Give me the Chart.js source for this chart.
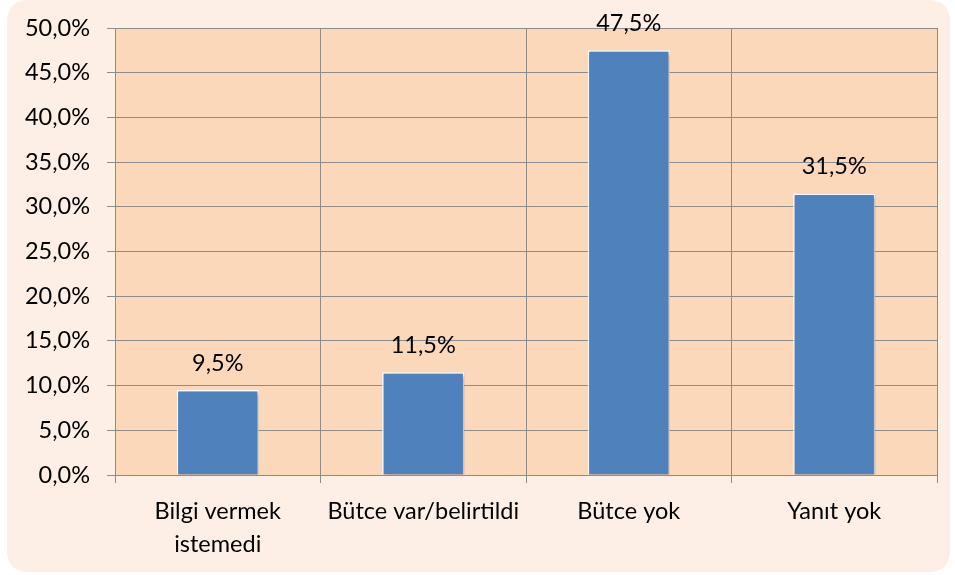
<!DOCTYPE html>
<html><head><meta charset="utf-8">
<script src="https://cdn.jsdelivr.net/npm/chart.js@4/dist/chart.umd.min.js"></script>
<style>html,body{margin:0;padding:0;background:#fff}#wrap{width:955px;height:575px}</style>
</head><body><div id="wrap"><canvas id="c" width="955" height="575"></canvas></div>
<script>
const categories = [["Bilgi vermek","istemedi"], "Bütce var/belirtildi", "Bütce yok", "Yanıt yok"];
const values = [9.5, 11.5, 47.5, 31.5];
const yTicks = [0,5,10,15,20,25,30,35,40,45,50];
const FONT = "Lato, 'Noto Sans', sans-serif";
const FS = 23.5;
const fmt = v => v.toFixed(1).replace('.', ',') + '%';

const bgPlugin = {
  id:'bg',
  beforeDraw(chart){
    const ctx = chart.ctx, a = chart.chartArea;
    ctx.save();
    ctx.fillStyle = '#FDEFE5';
    const x=7,y=0,w=943,h=572,r=22;
    ctx.beginPath();
    ctx.moveTo(x+r,y);ctx.lineTo(x+w-r,y);ctx.quadraticCurveTo(x+w,y,x+w,y+r);
    ctx.lineTo(x+w,y+h-r);ctx.quadraticCurveTo(x+w,y+h,x+w-r,y+h);
    ctx.lineTo(x+r,y+h);ctx.quadraticCurveTo(x,y+h,x,y+h-r);
    ctx.lineTo(x,y+r);ctx.quadraticCurveTo(x,y,x+r,y);ctx.closePath();ctx.fill();
    ctx.fillStyle = '#FBD8BA';
    ctx.fillRect(a.left,a.top,a.right-a.left,a.bottom-a.top);
    ctx.restore();
  },
  beforeDatasetsDraw(chart){
    chart.ctx.save();
    chart.ctx.shadowColor='rgba(0,0,0,0.3)';
    chart.ctx.shadowBlur=4;
    chart.ctx.shadowOffsetX=2;
    chart.ctx.shadowOffsetY=2;
  },
  afterDatasetsDraw(chart){
    chart.ctx.restore();
    const ctx = chart.ctx;
    const meta = chart.getDatasetMeta(0);
    ctx.save();
    ctx.font = FS + "px " + FONT;
    ctx.fillStyle = '#000';
    ctx.textAlign='center';ctx.textBaseline='middle';
    meta.data.forEach((bar,i)=>{
      ctx.fillText(fmt(values[i]), bar.x, bar.y-27);
    });
    ctx.restore();
  }
};

new Chart(document.getElementById('c'), {
  type:'bar',
  data:{labels:categories, datasets:[{data:values, backgroundColor:'#4F81BD', borderColor:'#FFFFFF', borderWidth:1.5, categoryPercentage:1, barPercentage:0.4}]},
  options:{
    responsive:false, animation:false, devicePixelRatio:1,
    layout:{padding:{left:0, top:28, right:18, bottom:0}},
    plugins:{legend:{display:false}, tooltip:{enabled:false}},
    scales:{
      y:{min:0,max:50,
        afterBuildTicks(s){ s.ticks = yTicks.map(v=>({value:v})); },
        afterFit(s){ s.width = 115; s.paddingTop = 0; s.paddingBottom = 0; },
        border:{display:true,color:'#8C8C8C',width:1},
        grid:{color:'#8C8C8C',lineWidth:1,tickLength:8,drawTicks:true},
        ticks:{color:'#000',font:{family:FONT,size:FS},padding:17,callback:v=>fmt(v)}
      },
      x:{
        afterFit(s){ s.height = 100; s.paddingLeft = 0; s.paddingRight = 0; },
        border:{display:true,color:'#8C8C8C',width:1},
        grid:{color:'#8C8C8C',lineWidth:1,tickLength:8,offset:true,drawTicks:true},
        ticks:{color:'#000',font:{family:FONT,size:FS,lineHeight:1.4},padding:12,maxRotation:0,autoSkip:false}
      }
    }
  },
  plugins:[bgPlugin]
});
</script></body></html>
